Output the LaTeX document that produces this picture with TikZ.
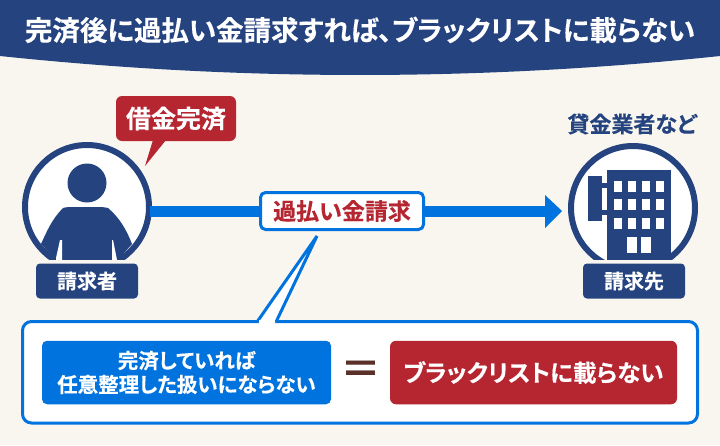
\documentclass[tikz,border=0pt]{standalone}
\usepackage{fontspec}
\usepackage{graphicx}
\setmainfont{Noto Sans CJK JP}[BoldFont={Noto Sans CJK JP Bold},BoldFeatures={FakeBold=0.3,RawFeature=+palt}]
\definecolor{navy}{HTML}{24437F}
\definecolor{bg}{HTML}{F9F6EF}
\definecolor{brand}{HTML}{0073DE}
\definecolor{crim}{HTML}{B52631}
\definecolor{eqbrown}{HTML}{5A3029}
\tikzset{x=1pt,y=-1pt,
 lbl/.style={fill=navy,rounded corners=4pt,text=white,font=\bfseries\fontsize{20}{20}\selectfont,minimum width=102pt,minimum height=35pt,inner sep=0pt},
 ring/.style={draw=navy,line width=6pt,fill=white},
 win/.style={fill=white}}
\begin{document}
\begin{tikzpicture}
\useasboundingbox (0,0) rectangle (720,445);
\fill[bg] (0,0) rectangle (720,445);
\fill[navy] (0,0) -- (720,0) -- (720,56) .. controls (480,81.3) and (240,81.3) .. (0,56) -- cycle;
\node[text=white,font=\bfseries\fontsize{27.5}{27.5}\selectfont,inner sep=0pt] (title) at (360,30) {完済後に過払い金請求すれば、ブラックリストに載らない};
% arrow
\node[ring,circle,minimum size=124pt,inner sep=0pt] (person) at (87,207) {};
\node[ring,circle,minimum size=124pt,inner sep=0pt] (office) at (633,208) {};
\coordinate (arrowstart) at (150,211);
\coordinate (arrowend) at (546,211);
\draw[brand,line width=11pt] (arrowstart) -- (arrowend);
\fill[brand] (545,195) -- (562,211) -- (545,228) -- cycle;
% person figure
\fill[navy] (87,183) circle (19.5);
\fill[navy] (63,208) .. controls (52,219) and (47,231) .. (41,244) -- (58,262) -- (116,262) -- (132,244) .. controls (127,231) and (120,218) .. (108,208) .. controls (104,207) and (100,207) .. (98,207) -- (74,207) .. controls (70,207) and (66,207) .. (63,208) -- cycle;
\fill[white] (60,240) -- (56,258) -- (56,260) -- (62,260) -- (62,240) -- cycle;
\fill[white] (113,240) -- (117,260) -- (112,260) -- (112,240) -- cycle;
% building
\fill[navy] (607,170) rectangle (671,262);
\fill[navy] (588,176) rectangle (602,221);
\fill[navy] (602,183) rectangle (607,188);
\fill[navy] (602,210) rectangle (607,215);
\foreach \y in {181,199,218}{\foreach \x in {614,628,642,656}{\fill[win] (\x,\y) rectangle +(8,11);}}
\fill[win] (627,237) rectangle +(10,15.5);
\fill[win] (641,237) rectangle +(10,15.5);
% cut of the two circles above their labels
\fill[bg] (15,260) rectangle (160,285);
\fill[bg] (560,260) rectangle (705,285);
\node[lbl] (reqlbl) at (87,281) {請求者};
\node[lbl] (dstlbl) at (634,281) {請求先};
% speech bubble
\fill[crim] (145,166) -- (153,140) -- (166,140) -- cycle;
\node[fill=crim,rounded corners=6pt,text=white,font=\bfseries\fontsize{25}{25}\selectfont,minimum width=120pt,minimum height=45pt,inner sep=0pt] (debt) at (176,118.5) {借金完済};
\node[text=navy,font=\bfseries\fontsize{22}{22}\selectfont,inner sep=0pt] (lender) at (632,124) {貸金業者など};
% bottom box
\draw[brand,line width=3pt,fill=white,rounded corners=9pt] (22.5,321.5) rectangle (697.5,423);
\fill[white] (257,322) -- (316,237) -- (277,322) -- cycle;
\coordinate (tip) at (317,236);
\draw[brand,line width=3pt,line join=miter] (257,322) -- (tip) -- (276,322);
\fill[white] (259,323.5) rectangle (275,320);
% middle label
\node[draw=brand,line width=3pt,fill=white,rounded corners=5pt,text=crim,font=\bfseries\fontsize{23}{23}\selectfont,minimum width=163pt,minimum height=37pt,inner sep=0pt] (over) at (342,211) {過払い金請求};
% inner boxes
\node[fill=brand,rounded corners=5pt,text=white,font=\bfseries\fontsize{20.5}{24}\selectfont,minimum width=289pt,minimum height=63.5pt,inner sep=0pt,align=center] (cond) at (186.5,372.5) {完済していれば\\任意整理した扱いにならない};
\node[fill=crim,rounded corners=6pt,text=white,font=\bfseries\fontsize{23.6}{23.6}\selectfont,minimum width=287pt,minimum height=63.5pt,inner sep=0pt] (res) at (533.5,372.5) {ブラックリストに載らない};
\node[text=eqbrown,font=\bfseries\fontsize{56}{56}\selectfont,inner sep=0pt] (eq) at (360.5,371.5) {\scalebox{1}[0.7]{=}};
\end{tikzpicture}
\end{document}
